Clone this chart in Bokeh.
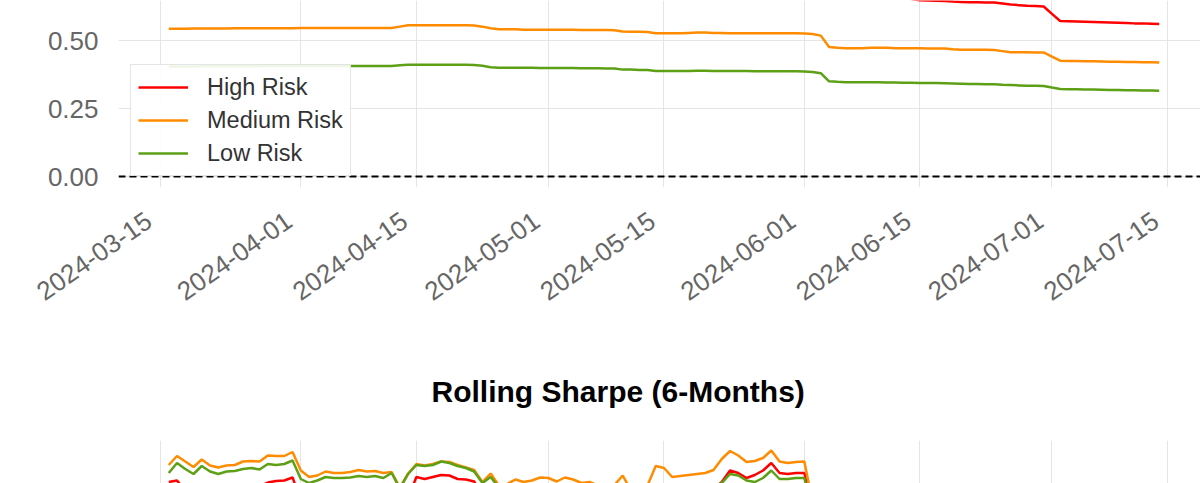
import math
import datetime as dt
import pandas as pd
from bokeh.plotting import figure
from bokeh.layouts import column
from bokeh.models import (Range1d, DaysTicker, DatetimeTickFormatter, NumeralTickFormatter,
                          SingleIntervalTicker, FixedTicker, Span, Title)
from bokeh.embed import file_html
from bokeh.resources import INLINE

# ---------------- data ----------------
start_date = "2024-03-16"
n_days = 121
series_names = ["High Risk", "Medium Risk", "Low Risk"]
series_colors = ["#ff0000", "#ff8c00", "#5da016"]

# rolling volatility (top panel)
vol_high = [
    0.728, 0.728, 0.729, 0.729, 0.729, 0.730, 0.730, 0.730, 0.731, 0.731, 0.731, 0.731, 0.732, 0.732, 0.732, 0.732,
    0.733, 0.733, 0.733, 0.733, 0.733, 0.733, 0.733, 0.733, 0.733, 0.733, 0.733, 0.733,
    0.740,
    0.746, 0.746, 0.746, 0.746, 0.746, 0.746, 0.746, 0.746, 0.746,
    0.740, 0.732,
    0.727, 0.727, 0.727, 0.726, 0.726, 0.726, 0.726, 0.725, 0.725, 0.725, 0.724, 0.724, 0.724, 0.723, 0.723,
    0.716, 0.715, 0.715, 0.714,
    0.708, 0.708, 0.708, 0.708, 0.709, 0.710, 0.710, 0.709, 0.709, 0.708, 0.708, 0.708, 0.707, 0.707, 0.707, 0.707, 0.707, 0.707, 0.706,
    0.702, 0.694,
    0.668, 0.664,
    0.663, 0.662, 0.662, 0.661, 0.661, 0.660, 0.659, 0.658, 0.653, 0.648, 0.647, 0.646, 0.645,
    0.643,
    0.642, 0.641, 0.641, 0.640, 0.640,
    0.636,
    0.632, 0.630, 0.628, 0.627, 0.625,
    0.598,
    0.572,
    0.571, 0.570, 0.569, 0.568, 0.567, 0.566, 0.565, 0.564, 0.563, 0.563, 0.562, 0.561,
]
vol_medium = [
    0.543, 0.543, 0.543, 0.544, 0.544, 0.544, 0.544, 0.544, 0.545, 0.545, 0.545, 0.545, 0.545, 0.545, 0.545, 0.545,
    0.546, 0.546, 0.546, 0.546, 0.546, 0.546, 0.546, 0.546, 0.546, 0.546, 0.546, 0.546,
    0.551,
    0.556, 0.556, 0.556, 0.556, 0.556, 0.556, 0.556, 0.556, 0.555,
    0.551, 0.545,
    0.541, 0.541, 0.541, 0.540, 0.540, 0.540, 0.540, 0.540, 0.540, 0.540, 0.539, 0.539, 0.539, 0.539, 0.538,
    0.533, 0.532, 0.532, 0.531,
    0.527, 0.527, 0.527, 0.527, 0.528, 0.529, 0.529, 0.528, 0.528, 0.527, 0.527, 0.527, 0.527, 0.527, 0.527, 0.527, 0.527, 0.527, 0.526,
    0.524, 0.518,
    0.476, 0.473,
    0.472, 0.472, 0.472, 0.473, 0.473, 0.473, 0.472, 0.472, 0.472, 0.472, 0.471, 0.471, 0.471,
    0.468,
    0.466, 0.466, 0.466, 0.466, 0.465,
    0.461,
    0.457, 0.457, 0.457, 0.456, 0.456,
    0.441,
    0.426,
    0.425, 0.425, 0.424, 0.424, 0.423, 0.422, 0.422, 0.421, 0.421, 0.420, 0.420, 0.419,
]
vol_low = [
    0.404, 0.404, 0.404, 0.404, 0.405, 0.405, 0.405, 0.405, 0.405, 0.405, 0.405, 0.406, 0.406, 0.406, 0.406, 0.406,
    0.406, 0.406, 0.406, 0.406, 0.406, 0.406, 0.406, 0.406, 0.406, 0.406, 0.406, 0.406,
    0.409,
    0.411, 0.411, 0.411, 0.411, 0.411, 0.411, 0.411, 0.411, 0.410,
    0.407, 0.402,
    0.400, 0.400, 0.400, 0.400, 0.400, 0.399, 0.399, 0.399, 0.399, 0.399, 0.398, 0.398, 0.398, 0.397, 0.397,
    0.393, 0.393, 0.392, 0.392,
    0.388, 0.388, 0.388, 0.388, 0.388, 0.389, 0.389, 0.388, 0.388, 0.388, 0.388, 0.388, 0.387, 0.387, 0.387, 0.387, 0.387, 0.387, 0.386,
    0.384, 0.380,
    0.350, 0.348,
    0.347, 0.347, 0.347, 0.347, 0.347, 0.346, 0.346, 0.345, 0.345, 0.344, 0.344, 0.344, 0.343,
    0.342,
    0.341, 0.340, 0.340, 0.339, 0.339,
    0.337,
    0.336, 0.335, 0.334, 0.334, 0.333,
    0.327,
    0.322,
    0.321, 0.321, 0.320, 0.320, 0.319, 0.318, 0.318, 0.317, 0.317, 0.316, 0.316, 0.315,
]

# rolling sharpe (bottom panel)
sharpe_high = [
    2.12, 2.15,
    1.95, 1.88, 2.00, 1.92, 1.86, 1.92, 1.95, 2.02, 2.05, 2.03,
    2.11, 2.14, 2.15, 2.21,
    1.75, 1.62, 1.66, 1.74, 1.71, 1.71, 1.73, 1.77, 1.74, 1.76, 1.71, 1.80, 1.55, 1.79,
    2.22, 2.18, 2.22, 2.26, 2.25, 2.18, 2.17, 2.13,
    1.85, 1.95, 1.78, 1.82, 1.90, 1.86, 1.88, 1.94, 1.93, 1.86, 1.94, 1.90, 1.82, 1.84, 1.77, 1.70, 1.79, 1.98,
    1.66, 1.60, 1.77, 2.02, 1.98, 1.82, 1.85, 1.88, 1.90, 1.93, 1.99,
    2.12, 2.35, 2.30, 2.20, 2.26, 2.35, 2.50, 2.30, 2.28, 2.30, 2.30, 1.60,
    1.20, 1.12, 1.16, 1.10, 1.05, 1.09, 1.15, 1.11, 1.04, 1.00,
    1.08, 1.14, 1.19, 1.15, 1.10, 1.05, 1.01, 1.06, 1.11, 1.16,
    1.12, 1.07, 1.02, 0.98, 1.03, 1.08, 1.13, 1.09, 1.04, 1.00,
    0.95, 0.99, 1.04, 1.09, 1.06, 1.01, 0.97, 0.93, 0.98, 1.02,
    0.99, 0.95,
]
sharpe_medium = [
    2.46, 2.64, 2.53, 2.42, 2.57, 2.45, 2.41, 2.45, 2.46, 2.53, 2.54, 2.53, 2.65, 2.64, 2.64, 2.72,
    2.35, 2.22, 2.25, 2.33, 2.30, 2.30, 2.32, 2.36, 2.33, 2.34, 2.30, 2.32,
    2.01, 2.29, 2.48, 2.45, 2.48, 2.53, 2.52, 2.46, 2.41, 2.36, 2.12, 2.29, 2.05,
    2.08, 2.17, 2.12, 2.15, 2.21, 2.20, 2.13, 2.21, 2.17, 2.10, 2.12, 2.05, 1.99, 2.06, 2.25, 1.95, 1.89, 2.05,
    2.44, 2.40, 2.22, 2.24, 2.26, 2.28, 2.30, 2.36, 2.58, 2.74, 2.65, 2.52, 2.54, 2.60, 2.75, 2.53, 2.50, 2.52, 2.53, 1.72,
    1.35, 1.28, 1.31, 1.26, 1.22, 1.25, 1.30, 1.27, 1.21, 1.18,
    1.24, 1.29, 1.33, 1.30, 1.26, 1.22, 1.19, 1.23, 1.27, 1.31,
    1.28, 1.24, 1.20, 1.17, 1.21, 1.25, 1.29, 1.26, 1.22, 1.19,
    1.15, 1.18, 1.22, 1.26, 1.24, 1.20, 1.17, 1.14, 1.18, 1.21,
    1.19, 1.16,
]
sharpe_low = [
    2.30, 2.50, 2.38, 2.28, 2.44, 2.33, 2.28, 2.33, 2.34, 2.38, 2.40, 2.37, 2.48, 2.46, 2.48, 2.55,
    2.18, 2.10, 2.15, 2.22, 2.20, 2.20, 2.21, 2.24, 2.22, 2.24, 2.20, 2.30,
    1.99, 2.28, 2.46, 2.44, 2.46, 2.53, 2.50, 2.44, 2.40, 2.33, 2.10, 2.22, 2.01,
    1.95, 2.02, 1.98, 2.00, 2.05, 2.04, 1.98, 2.05, 2.01, 1.94, 1.96, 1.90, 1.84, 1.91, 2.06, 1.80, 1.75, 1.90,
    2.05, 2.02, 1.90, 1.92, 1.95, 1.98, 2.00, 2.03,
    2.10, 2.28, 2.25, 2.15, 2.12, 2.20, 2.35, 2.18, 2.18, 2.20, 2.20, 1.55,
    1.10, 1.03, 1.06, 1.01, 0.97, 1.00, 1.05, 1.02, 0.96, 0.93,
    0.99, 1.04, 1.08, 1.05, 1.01, 0.97, 0.94, 0.98, 1.02, 1.06,
    1.03, 0.99, 0.95, 0.92, 0.96, 1.00, 1.04, 1.01, 0.97, 0.94,
    0.90, 0.93, 0.97, 1.01, 0.99, 0.95, 0.92, 0.89, 0.93, 0.96,
    0.94, 0.91,
]

sharpe_title = "Rolling Sharpe (6-Months)"

for arr in (vol_high, vol_medium, vol_low, sharpe_high, sharpe_medium, sharpe_low):
    assert len(arr) == n_days, len(arr)

dates = pd.date_range(start_date, periods=n_days, freq="D")

# ---------------- layout / style ----------------
FONT = "Liberation Sans"
GRID = "#e5e5e5"
TICK_COLOR = "#666666"

base = dt.datetime(2024, 3, 15)
x_range = Range1d(base - dt.timedelta(days=5.088), base + dt.timedelta(days=126.0))


def common_style(p):
    p.outline_line_color = None
    for ax in p.axis:
        ax.axis_line_color = None
        ax.major_tick_line_color = None
        ax.minor_tick_line_color = None
        ax.major_tick_out = 0
        ax.major_tick_in = 0
        ax.minor_tick_out = 0
        ax.major_label_text_font = FONT
        ax.major_label_text_color = TICK_COLOR
        ax.major_label_text_font_size = "26px"
    p.xaxis.ticker = DaysTicker(days=[1, 15])
    p.xaxis.formatter = DatetimeTickFormatter(days="%Y-%m-%d\u00a0\u00a0",
                                              months="%Y-%m-%d\u00a0\u00a0")
    p.xgrid.grid_line_color = GRID
    p.ygrid.grid_line_color = GRID
    p.xgrid.grid_line_width = 1
    p.ygrid.grid_line_width = 1


# top panel
p1 = figure(width=1200, height=337, x_axis_type="datetime", x_range=x_range,
            y_range=Range1d(-0.0404, 0.6471), output_backend="svg", toolbar_location=None,
            min_border_left=118, min_border_right=0, min_border_top=0, min_border_bottom=150,
            title=None)
common_style(p1)
p1.yaxis.ticker = SingleIntervalTicker(interval=0.25)
p1.yaxis.formatter = NumeralTickFormatter(format="0.00")
p1.yaxis.major_label_standoff = 20
p1.xaxis.major_label_orientation = math.radians(35)
p1.xaxis.major_label_standoff = 22

for vals, name, col in zip((vol_high, vol_medium, vol_low), series_names, series_colors):
    p1.line(dates, vals, line_color=col, line_width=2.5, legend_label=name)

p1.add_layout(Span(location=0, dimension="width", line_color="black",
                   line_dash="7 4", line_width=1.8))

lg = p1.legend[0]
lg.location = (12, 11)
lg.label_text_font = FONT
lg.label_text_font_size = "23.5px"
lg.label_text_color = "#333333"
lg.glyph_width = 50
lg.glyph_height = 30
lg.label_height = 30
lg.label_standoff = 19
lg.spacing = 3
lg.padding = 7
lg.margin = 0
lg.border_line_color = "#cccccc"
lg.border_line_width = 1
lg.background_fill_color = "white"
lg.background_fill_alpha = 0.9

# bottom panel
p2 = figure(width=1200, height=146, x_axis_type="datetime", x_range=x_range,
            y_range=Range1d(2.09, 2.95), output_backend="svg", toolbar_location=None,
            min_border_left=118, min_border_right=0, min_border_top=103, min_border_bottom=0,
            title=None)
common_style(p2)
p2.yaxis.ticker = FixedTicker(ticks=[-2, -1, 0, 1, 2, 3, 4])
p2.xaxis.visible = False
p2.title = Title(text=sharpe_title, align="left", offset=313, standoff=65,
                 text_font=FONT, text_font_size="30px", text_font_style="bold",
                 text_color="black")

for vals, name, col in zip((sharpe_high, sharpe_medium, sharpe_low), series_names, series_colors):
    p2.line(dates, vals, line_color=col, line_width=2.5)

layout = column(p1, p2, spacing=0)

open("out.html", "w").write(file_html(layout, INLINE))
